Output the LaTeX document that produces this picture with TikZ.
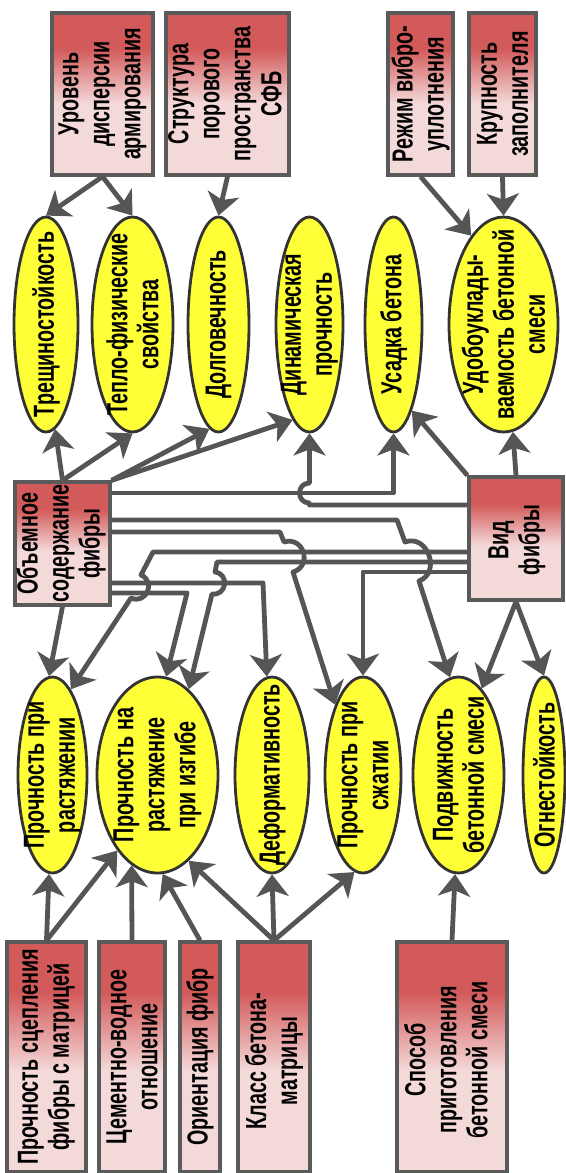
\documentclass[tikz,border=0pt]{standalone}
\usepackage{fontspec}
\setmainfont{Liberation Sans}[FakeStretch=0.68]
\usetikzlibrary{shapes.geometric,arrows.meta}
\definecolor{linec}{HTML}{555555}
\definecolor{yel}{HTML}{FFFF38}
\definecolor{ellb}{HTML}{333333}
\definecolor{boxb}{HTML}{5A5A5A}
\definecolor{redD}{HTML}{D35A5A}
\definecolor{pinkL}{HTML}{F4D9D9}
\pgfdeclareverticalshading{boxshade}{100bp}{color(0bp)=(pinkL); color(25bp)=(pinkL); color(47bp)=(pinkL); color(64bp)=(redD); color(75bp)=(redD); color(100bp)=(redD)}
\begin{document}
\begin{tikzpicture}[x=0.5pt,y=-0.5pt,
 ell/.style={ellipse, draw=ellb, line width=1.4pt, fill=yel, inner sep=0pt},
 box/.style={rectangle, draw=boxb, line width=1.6pt, shade, shading=boxshade, inner sep=0pt},
 txt/.style={inner sep=0pt, rotate=90, align=center, font=\bfseries\fontsize{14.5}{15.5}\selectfont},
 con/.style={draw=linec, line width=2.4pt, line join=round, -{Stealth[length=11pt,width=16pt,inset=3pt]}}]
\useasboundingbox (0,0) rectangle (566,1173);

% top boxes
\node[box, minimum width=50.5pt, minimum height=81pt] (lvl) at (102.5,94) {};
\node[txt] (lvlt) at (lvl) {Уровень\\дисперсии\\армирования};
\node[box, minimum width=61.5pt, minimum height=81pt] (str) at (227.5,94) {};
\node[txt] (strt) at (225,94) {Структура\\порового\\пространства\\СФБ};
\node[box, minimum width=32.5pt, minimum height=81pt] (rej) at (420.5,94) {};
\node[txt] (rejt) at (rej) {Режим вибро-\\уплотнения};
\node[box, minimum width=33.5pt, minimum height=81pt] (kru) at (502.5,94) {};
\node[txt] (krut) at (kru) {Крупность\\заполнителя};

% top ellipses
\node[ell, minimum width=32pt, minimum height=107.5pt] (tre) at (46,324.5) {};
\node[txt] (tret) at (tre) {Трещиностойкость};
\node[ell, minimum width=40.5pt, minimum height=107.5pt] (tep) at (132.5,324.5) {};
\node[txt] (tept) at (tep) {Тепло-физические\\свойства};
\node[ell, minimum width=30.5pt, minimum height=107.5pt] (dol) at (218.5,324.5) {};
\node[txt] (dolt) at (dol) {Долговечность};
\node[ell, minimum width=33.5pt, minimum height=107.5pt] (din) at (309.5,324.5) {};
\node[txt] (dint) at (din) {Динамическая\\прочность};
\node[ell, minimum width=28.5pt, minimum height=107.5pt] (usa) at (393.5,324.5) {};
\node[txt] (usat) at (usa) {Усадка бетона};
\node[ell, minimum width=54.5pt, minimum height=107.5pt] (udo) at (503.5,324.5) {};
\node[txt] (udot) at (udo) {Удобоуклады-\\ваемость бетонной\\смеси};

% middle boxes
\node[box, minimum width=47.5pt, minimum height=61.5pt] (obm) at (62.5,543.5) {};
\node[txt] (obmt) at (61,543.5) {Объемное\\содержание\\фибры};
\node[box, minimum width=47pt, minimum height=61.5pt] (vid) at (516,538.5) {};
\node[txt] (vidt) at (517,540) {Вид\\фибры};

% bottom ellipses
\node[ell, minimum width=34.5pt, minimum height=98pt] (pra) at (52.5,775) {};
\node[txt] (prat) at (pra) {Прочность при\\растяжении};
\node[ell, minimum width=60.5pt, minimum height=98pt] (piz) at (157.5,775) {};
\node[txt] (pizt) at (piz) {Прочность на\\растяжение\\при изгибе};
\node[ell, minimum width=37pt, minimum height=98pt] (def) at (272,775) {};
\node[txt] (deft) at (def) {Деформативность};
\node[ell, minimum width=38pt, minimum height=98pt] (psz) at (363,775) {};
\node[txt] (pszt) at (psz) {Прочность при\\сжатии};
\node[ell, minimum width=45.5pt, minimum height=98pt] (pod) at (458.5,775) {};
\node[txt] (podt) at (pod) {Подвижность\\бетонной смеси};
\node[ell, minimum width=21pt, minimum height=98pt] (ogn) at (544,775) {};
\node[txt] (ognt) at (ogn) {Огнестойкость};

% bottom boxes
\node[box, minimum width=39.5pt, minimum height=115pt] (psc) at (46.5,1057) {};
\node[txt] (psct) at (psc) {Прочность сцепления\\фибры с матрицей};
\node[box, minimum width=33pt, minimum height=115pt] (cem) at (132,1057) {};
\node[txt] (cemt) at (cem) {Цементно-водное\\отношение};
\node[box, minimum width=20pt, minimum height=115pt] (ori) at (200,1057) {};
\node[txt] (orit) at (ori) {Ориентация фибр};
\node[box, minimum width=36pt, minimum height=115pt] (kla) at (274,1057) {};
\node[txt] (klat) at (274,1061) {Класс бетона-\\матрицы};
\node[box, minimum width=55pt, minimum height=115pt] (spo) at (452,1057) {};
\node[txt] (spot) at (446,1060) {Способ\\приготовления\\бетонной смеси};

% top connectors
\draw[con] (lvl.south) -- (tre.north);
\draw[con] (lvl.south) -- (tep.north);
\draw[con] (str.south) -- (dol.north);
\draw[con] (rej.south) -- (udo.110);
\draw[con] (kru.south) -- (udo.north);

% from Объемное upward
\draw[con] (obm.north) -- (tre.-85);
\draw[con] (obm.north) -- (tep.south);
\draw[con] (obm.north east) -- (dol.-95);
\draw[con] (obm.north east) -- (din.-100);

% from Вид upward
\draw[con] (vid.north west) -- (usa.-78);
\draw[con] (vid.north) -- (udo.-85);

% tangle
\draw[con] (vid.west |- 0,505) -- (309.5,505) -- (309.5,503)
  .. controls (296.2,503) and (296.2,483) .. (309.5,483) -- (din.south);
\draw[con] (obm.east |- 0,493) -- (393.5,493) -- (usa.south);
\draw[con] (obm.east |- 0,520) -- (397,520) -- (405,542)
  .. controls (427.6,533.6) and (441.6,572.6) .. (419,581) -- (pod.95);
\draw[con] (obm.east |- 0,532) -- (280,532) -- (284,542)
  .. controls (303.9,536) and (312.9,566) .. (293,572) -- (psz.north west);
\draw[con] (obm.east |- 0,583) -- (263,583) -- (def.93);
\draw[con] (obm.east |- 0,593) -- (187,593) -- (piz.85);
\draw[con] (vid.west |- 0,552) -- (153,552) -- (141,575)
  .. controls (156.3,581.7) and (146.3,604.7) .. (131,598) -- (pra.78);
\draw[con] (vid.west |- 0,562) -- (217,562) -- (215,572)
  .. controls (229.7,574) and (226.7,596) .. (212,594) -- (piz.70);
\draw[con] (vid.west |- 0,572) -- (363,572) -- (psz.north);
\draw[con] (obm.south) -- (pra.92);
\draw[con] (vid.south) -- (pod.75);
\draw[con] (vid.south) -- (ogn.north);

% bottom connectors
\draw[con] (psc.north) -- (pra.-92);
\draw[con] (psc.north) -- (piz.-118);
\draw[con] (cem.north) -- (piz.-106);
\draw[con] (ori.north) -- (piz.-87);
\draw[con] (kla.north) -- (piz.-70);
\draw[con] (kla.north) -- (def.south);
\draw[con] (kla.north) -- (psz.-95);
\draw[con] (spo.north) -- (pod.-92);
\end{tikzpicture}
\end{document}
